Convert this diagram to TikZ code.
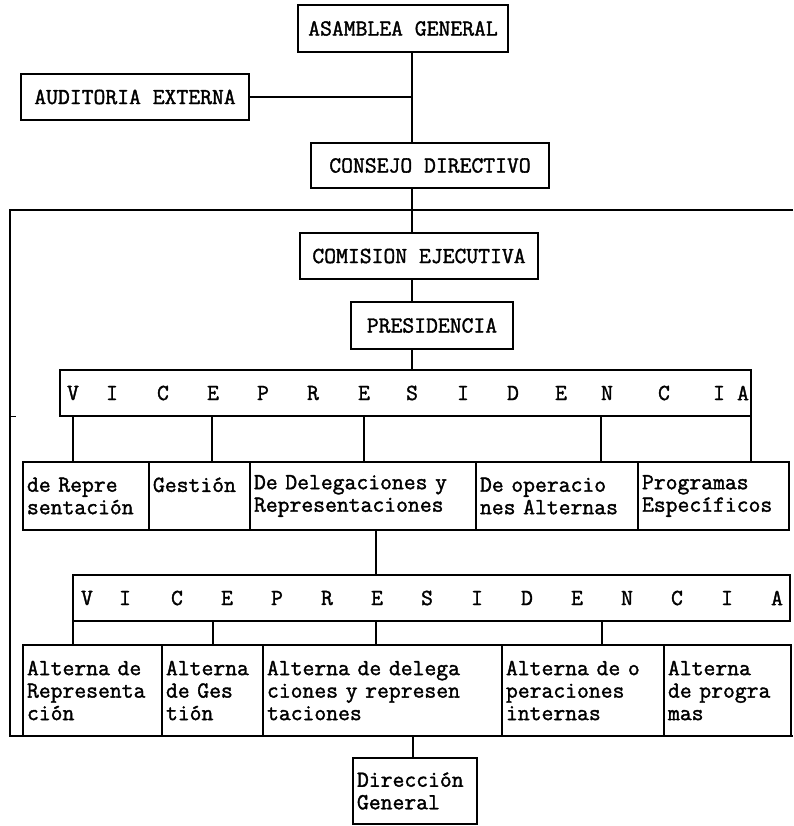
\documentclass[tikz,border=0pt]{standalone}
\usepackage{fontspec}
\usepackage{tikz}
\newfontfamily\tipo{Latin Modern Mono}[FakeBold=1.6]

\begin{document}
\begin{tikzpicture}[x=1pt,y=-1pt]
\tikzstyle{caja}=[draw, line width=1.3pt, inner sep=0pt,
                        font=\tipo\fontsize{23}{22.5}\selectfont]
\tikzstyle{bloque}=[caja, align=left, inner xsep=4pt]
\tikzstyle{letra}=[inner sep=0pt, font=\tipo\fontsize{23}{22.5}\selectfont]
\useasboundingbox (0,0) rectangle (793,826);
	\node[caja, minimum width=210pt, minimum height=47pt] (AG) at (403,28.5){ASAMBLEA GENERAL};
	\node[caja, minimum width=228pt, minimum height=46pt] (AE) at (135,97){AUDITORIA EXTERNA};
	\node[caja, minimum width=238pt, minimum height=45pt] (CD) at (430,165.5){CONSEJO DIRECTIVO};
	\node[caja, minimum width=238pt, minimum height=46pt] (CE) at (419,256){COMISION EJECUTIVA};
	\node[caja, minimum width=162pt, minimum height=47pt] (PR) at (432,325.5){PRESIDENCIA};
	\node[caja, minimum width=691pt, minimum height=46pt] (V1) at (405.5,393){};
	\node[caja, minimum width=717pt, minimum height=46pt] (V2) at (431.5,598){};
% vicepresidencias
	\node[bloque, text width=118pt, minimum height=68pt] (ra) at (86,496){de Repre\\sentación};
	\node[bloque, text width=93pt, minimum height=68pt] (rb) at (199.5,496){Gestión\\~};
	\node[bloque, text width=218pt, minimum height=68pt] (rc) at (363,496){De Delegaciones y\\Representaciones};
	\node[bloque, text width=154pt, minimum height=68pt] (rd) at (557,496){De operacio\\nes Alternas};
	\node[bloque, text width=143pt, minimum height=68pt] (re) at (713.5,496){Programas\\Específicos};
% alternas
	\node[bloque, text width=131pt, minimum height=91pt] (sa) at (92.5,690.5){Alterna de\\Representa\\ción};
	\node[bloque, text width=93pt, minimum height=91pt] (sb) at (212.5,690.5){Alterna\\de Ges\\tión};
	\node[bloque, text width=231pt, minimum height=91pt] (sc) at (382.5,690.5){Alterna de delega\\ciones y represen\\taciones};
	\node[bloque, text width=154pt, minimum height=91pt] (sd) at (583,690.5){Alterna de o\\peraciones\\internas};
	\node[bloque, text width=119pt, minimum height=91pt] (se) at (727.5,690.5){Alterna\\de progra\\mas};
	\node[bloque, text width=116pt, minimum height=66pt] (DG) at (415,791){Dirección\\General};
% letras
\foreach \x/\l [count=\i] in {73/V,112/I,163/C,213/E,263/P,313/R,364/E,412/S,463/I,513/D,561/E,607/N,664/C,719/I,743/A}
	\node[letra] (L\i) at (\x,393){\l};
\foreach \x/\l [count=\i] in {87/V,125/I,177/C,227/E,277/P,327/R,377/E,427/S,477/I,527/D,577/E,627/N,677/C,727/I,777/A}
	\node[letra] (M\i) at (\x,598){\l};
% lineas
\coordinate (eje) at (412,0);
\coordinate (msi) at (10,210);
\coordinate (msd) at (793,210);
\coordinate (mii) at (10,736);
\coordinate (mid) at (793,736);
\begin{scope}[line width=1.3pt]
\draw (msd)--(msi)--(mii)--(mid);
\draw (mii |- V1.south)--++(6,0);
\draw (AG.south -| eje)--(CD.north -| eje);
\draw (AE.east)--(AE.east -| eje);
\draw (CD.south -| eje)--(CE.north -| eje);
\draw (CE.south -| eje)--(PR.north -| eje);
\draw (PR.south -| eje)--(V1.north -| eje);
\foreach \x/\b in {73/ra,212/rb,364/rc,601/rd,751/re}{
	\coordinate (t) at (\x,0);
	\draw (V1.south -| t)--(\b.north -| t);}
\coordinate (t) at (376,0);
\draw (rc.south -| t)--(V2.north -| t);
\foreach \x/\b in {73/sa,213/sb,376/sc,602/sd}{
	\coordinate (t) at (\x,0);
	\draw (V2.south -| t)--(\b.north -| t);}
\coordinate (t) at (413,0);
\draw (sc.south -| t)--(DG.north -| t);
\end{scope}
\end{tikzpicture}
\end{document}
